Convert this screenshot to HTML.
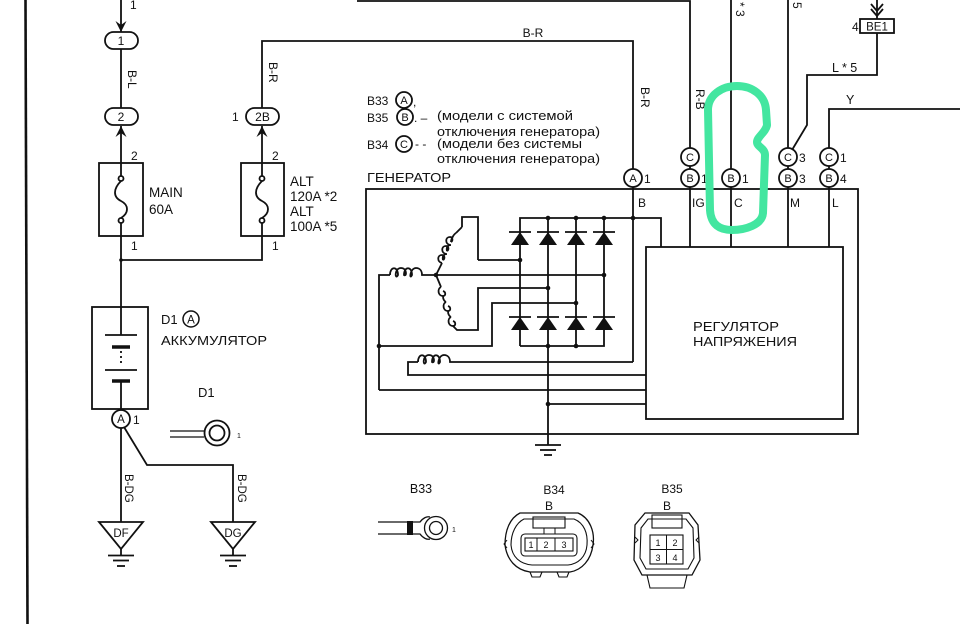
<!DOCTYPE html>
<html><head><meta charset="utf-8">
<style>
html,body{margin:0;padding:0;background:#fff;}
svg{display:block;}
text{font-family:"Liberation Sans",sans-serif;fill:#111;}
</style></head>
<body>
<svg width="960" height="624" viewBox="0 0 960 624" xmlns="http://www.w3.org/2000/svg">
<rect width="960" height="624" fill="#fff"/>
<g stroke="#111" stroke-width="1.8" fill="none" stroke-linecap="butt">
<!-- left border -->
<line x1="25.5" y1="0" x2="27.5" y2="624" stroke-width="2.6"/>

<!-- main column -->
<line x1="121" y1="0" x2="121" y2="32"/>
<rect x="105" y="32" width="33" height="17" rx="8.5"/>
<line x1="121" y1="49" x2="121" y2="108"/>
<rect x="105" y="108" width="33" height="17" rx="8.5"/>
<line x1="121" y1="126" x2="121" y2="163"/>
<rect x="99" y="163" width="44" height="73"/>
<line x1="121" y1="163" x2="121" y2="176"/>
<circle cx="121" cy="178.5" r="2.5"/>
<path d="M121,181 C113,189 113,197 121,201 C129,205 129,213 121,218"/>
<circle cx="121" cy="220.5" r="2.5"/>
<line x1="121" y1="223" x2="121" y2="236"/>
<line x1="121" y1="236" x2="121" y2="307"/>
<polyline points="121,260 262,260 262,236"/>

<!-- ALT column -->
<polyline points="262,108 262,41 633,41 633,169"/>
<rect x="246" y="108" width="33" height="17" rx="8.5"/>
<line x1="262" y1="126" x2="262" y2="163"/>
<rect x="241" y="163" width="43" height="73"/>
<line x1="262" y1="163" x2="262" y2="176"/>
<circle cx="262" cy="178.5" r="2.5"/>
<path d="M262,181 C254,189 254,197 262,201 C270,205 270,213 262,218"/>
<circle cx="262" cy="220.5" r="2.5"/>
<line x1="262" y1="223" x2="262" y2="236"/>

<!-- battery -->
<rect x="92" y="307" width="56" height="102"/>
<line x1="121" y1="307" x2="121" y2="335"/>
<line x1="105" y1="335" x2="137" y2="335"/>
<line x1="112" y1="347" x2="130" y2="347" stroke-width="3.5"/>
<line x1="121" y1="351" x2="121" y2="364" stroke-dasharray="2,3"/>
<line x1="105" y1="370" x2="137" y2="370"/>
<line x1="112" y1="381" x2="130" y2="381" stroke-width="3.5"/>
<line x1="121" y1="381" x2="121" y2="409"/>
<circle cx="121" cy="419" r="9"/>
<line x1="121" y1="428" x2="121" y2="522"/>
<polyline points="124,427 147,465 233,465 233,522"/>
<polygon points="99,522 143,522 121,549"/>
<line x1="121" y1="549" x2="121" y2="555"/>
<line x1="108" y1="555.5" x2="134" y2="555.5"/>
<line x1="113" y1="560.5" x2="129" y2="560.5"/>
<line x1="117" y1="566" x2="125" y2="566"/>
<polygon points="211,522 255,522 233,549"/>
<line x1="233" y1="549" x2="233" y2="555"/>
<line x1="220" y1="555.5" x2="246" y2="555.5"/>
<line x1="225" y1="560.5" x2="241" y2="560.5"/>
<line x1="229" y1="566" x2="237" y2="566"/>

<!-- D1 terminal -->
<line x1="170" y1="431" x2="204" y2="431" stroke-width="1.3"/>
<line x1="170" y1="437" x2="204" y2="437" stroke-width="1.3"/>
<circle cx="217" cy="433" r="12.5" fill="#fff"/>
<circle cx="217" cy="433" r="7.5"/>

<!-- legend circles -->
<circle cx="404" cy="100" r="8"/>
<circle cx="405" cy="117" r="8"/>
<circle cx="404" cy="144" r="8"/>

<!-- generator box -->
<rect x="366" y="189" width="492" height="245"/>
<circle cx="633" cy="178" r="9" fill="#fff"/>
<line x1="633" y1="187" x2="633" y2="362"/>
<polyline points="520,346 520,218 661,218 661,247"/>
<line x1="548" y1="218" x2="548" y2="445"/>
<line x1="576" y1="218" x2="576" y2="346"/>
<polyline points="604,218 604,346 520,346"/>
<!-- stator -->
<path d="M478,260 L520,260"/>
<polyline points="462,227 462,217 478,217 478,260"/>
<polyline points="462,330 478,330 478,288 548,288"/>
<line x1="436" y1="275" x2="604" y2="275"/>
<!-- upper coil -->
<path d="M436,275 L442,263"/>
<path d="M442,263 c-5,-1 -5,-8 0,-8 c3,0 3,4 1,5 M443,260 c-1,-4 1,-6 4,-6 M446,254 c-5,-1 -5,-8 0,-8 c3,0 3,4 1,5 M447,251 c-1,-4 1,-6 4,-6 M450,245 c-5,-1 -5,-8 0,-8 c3,0 3,4 1,5 M451,242 c0,-3 3,-8 5,-9"/>
<path d="M456,233 L462,227"/>
<!-- lower coil -->
<path d="M436,275 L441,287"/>
<path d="M441,287 c-4,2 -3,9 2,9 c3,0 3,-4 0,-5 M443,296 c0,3 1,5 3,6 M446,302 c-4,2 -3,9 2,9 c3,0 3,-4 0,-5 M448,311 c0,3 1,5 3,6 M451,317 c-4,2 -3,9 2,9 c3,0 3,-4 0,-5"/>
<path d="M453,326 L457,330 L462,330"/>
<polyline points="379,390 379,275 390,275"/>
<path d="M390,275 c0,-9 8,-9 8,0 c-3,6 -4,-7 3,-7 c6,0 6,9 3,7 c0,-9 8,-9 8,0 c-3,6 -2,-7 4,-7 c4,0 6,3 6,7 L436,275"/>
<polyline points="379,346 492,346 492,303 576,303"/>
<line x1="379" y1="390" x2="646" y2="390"/>
<!-- rotor -->
<polyline points="646,375 408,375 408,362 418,362"/>
<path d="M418,362 c0,-9 8,-9 8,0 c-3,6 -4,-7 3,-7 c6,0 6,9 3,7 c0,-9 8,-9 8,0 c-3,6 -2,-7 4,-7 c4,0 6,3 6,7 L633,362"/>
<line x1="548" y1="404" x2="646" y2="404"/>
<!-- ground -->
<line x1="535" y1="445" x2="561" y2="445"/>
<line x1="540" y1="450" x2="556" y2="450"/>
<line x1="544" y1="455" x2="552" y2="455"/>
<!-- regulator -->
<rect x="646" y="247" width="197" height="172"/>

<!-- top wires -->
<polyline points="357,1 690,1 690,148"/>
<circle cx="690" cy="157" r="9" fill="#fff"/>
<line x1="690" y1="166" x2="690" y2="169"/>
<circle cx="690" cy="178" r="9" fill="#fff"/>
<line x1="690" y1="187" x2="690" y2="247"/>
<line x1="731" y1="0" x2="731" y2="169"/>
<circle cx="731" cy="178" r="9" fill="#fff"/>
<line x1="731" y1="187" x2="731" y2="247"/>
<line x1="788" y1="0" x2="788" y2="148"/>
<circle cx="788" cy="157" r="9" fill="#fff"/>
<line x1="788" y1="166" x2="788" y2="169"/>
<circle cx="788" cy="178" r="9" fill="#fff"/>
<line x1="788" y1="187" x2="788" y2="247"/>
<polyline points="877,0 877,19"/>
<polyline points="871,4 877,11 883,4"/>
<polyline points="871,9 877,16 883,9"/>
<rect x="860" y="19" width="34" height="14"/>
<polyline points="877,33 877,75 807,75 807,125 792,150"/>
<polyline points="960,109 829,109 829,148"/>
<circle cx="829" cy="157" r="9" fill="#fff"/>
<line x1="829" y1="166" x2="829" y2="169"/>
<circle cx="829" cy="178" r="9" fill="#fff"/>
<line x1="829" y1="187" x2="829" y2="247"/>

<!-- B33 terminal -->
<line x1="378" y1="522" x2="407" y2="522" stroke-width="1.3"/>
<line x1="378" y1="534" x2="407" y2="534" stroke-width="1.3"/>
<path d="M413,522 L420,522 C423,518 427,516 430,517 M413,534 L420,534 C423,538 427,540 430,539" stroke-width="1.3"/>
<circle cx="436" cy="528" r="11.5" stroke-width="1.3"/>
<circle cx="436" cy="528" r="6.5" stroke-width="1.3"/>

<!-- B34 -->
<path d="M520,513 L578,513 C590,518 595,532 593,545 C591,560 582,570 570,572 L530,572 C516,570 507,560 505,545 C505,530 510,518 520,513 Z" stroke-width="1.3"/>
<path d="M524,519 L574,519 C584,523 588,533 587,545 C586,557 578,564 568,565 L532,565 C520,564 512,557 511,545 C511,533 516,523 524,519 Z" stroke-width="1.1"/>
<rect x="533" y="517" width="32" height="11" stroke-width="1.1"/>
<line x1="544" y1="528" x2="544" y2="534" stroke-width="1"/>
<line x1="555" y1="528" x2="555" y2="534" stroke-width="1"/>
<rect x="521" y="534" width="56" height="22" rx="4" stroke-width="1.1"/>
<rect x="525" y="538" width="48" height="13" stroke-width="1.1"/>
<line x1="537" y1="538" x2="537" y2="551" stroke-width="1"/>
<line x1="555" y1="538" x2="555" y2="551" stroke-width="1"/>
<path d="M507,540 l-3,4 3,4 M591,540 l3,4 -3,4" stroke-width="1"/>
<path d="M530,572 l2,5 h8 l2,-5 M557,572 l2,5 h8 l2,-5" stroke-width="1.1"/>

<!-- B35 -->
<path d="M645,513 L689,513 L698,525 L700,560 L692,575 L642,575 L634,560 L635,525 Z" stroke-width="1.3"/>
<path d="M648,519 L686,519 L693,528 L694,558 L688,569 L646,569 L640,558 L641,528 Z" stroke-width="1.1"/>
<rect x="652" y="515" width="30" height="13" stroke-width="1.1"/>
<rect x="650" y="535" width="33" height="29" stroke-width="1.1"/>
<line x1="666.5" y1="535" x2="666.5" y2="564" stroke-width="1"/>
<line x1="650" y1="549.5" x2="683" y2="549.5" stroke-width="1"/>
<path d="M647,575 L650,588 L684,588 L687,575" stroke-width="1.1"/>
<path d="M635,537 l3,3 -3,3 M699,537 l-3,3 3,3" stroke-width="1"/>
</g>

<!-- fills: arrows, dots, band, diodes -->
<g fill="#111" stroke="none">
<polygon points="115.5,21 121,32 126.5,21 121,25"/>
<polygon points="115.5,137 121,126 126.5,137 121,133"/>
<polygon points="256.5,137 262,126 267.5,137 262,133"/>
<circle cx="121" cy="260" r="1.8"/>
<circle cx="548" cy="218" r="2.3"/>
<circle cx="576" cy="218" r="2.3"/>
<circle cx="604" cy="218" r="2.3"/>
<circle cx="633" cy="218" r="2.3"/>
<circle cx="520" cy="260" r="2.3"/>
<circle cx="604" cy="275" r="2.3"/>
<circle cx="436" cy="275" r="2.3"/>
<circle cx="548" cy="288" r="2.3"/>
<circle cx="576" cy="303" r="2.3"/>
<circle cx="379" cy="346" r="2.3"/>
<circle cx="548" cy="346" r="2.3"/>
<circle cx="576" cy="346" r="2.3"/>
<circle cx="548" cy="404" r="2.3"/>
<rect x="407" y="521" width="6" height="14"/>
<polygon points="511,245 529,245 520,232"/>
<polygon points="539,245 557,245 548,232"/>
<polygon points="567,245 585,245 576,232"/>
<polygon points="595,245 613,245 604,232"/>
<polygon points="511,330 529,330 520,317"/>
<polygon points="539,330 557,330 548,317"/>
<polygon points="567,330 585,330 576,317"/>
<polygon points="595,330 613,330 604,317"/>
</g>
<g stroke="#111" stroke-width="1.8">
<line x1="509" y1="232" x2="531" y2="232"/><line x1="537" y1="232" x2="559" y2="232"/>
<line x1="565" y1="232" x2="587" y2="232"/><line x1="593" y1="232" x2="615" y2="232"/>
<line x1="509" y1="317" x2="531" y2="317"/><line x1="537" y1="317" x2="559" y2="317"/>
<line x1="565" y1="317" x2="587" y2="317"/><line x1="593" y1="317" x2="615" y2="317"/>
</g>

<!-- text -->
<g font-size="12">
<text x="130" y="9">1</text>
<text x="121" y="45" text-anchor="middle">1</text>
<text x="121" y="121" text-anchor="middle">2</text>
<text x="262.5" y="121" text-anchor="middle">2B</text>
<text x="232" y="121">1</text>
<text x="128" y="70" transform="rotate(90 128 70)">B-L</text>
<text x="269" y="62" transform="rotate(90 269 62)">B-R</text>
<text x="131" y="160">2</text>
<text x="272" y="160">2</text>
<text x="131" y="250">1</text>
<text x="272" y="250">1</text>
<text x="149" y="197" font-size="13.5">MAIN</text>
<text x="149" y="214" font-size="13.5">60A</text>
<text x="290" y="186" font-size="13.5">ALT</text>
<text x="290" y="201" font-size="13.5">120A *2</text>
<text x="290" y="216" font-size="13.5">ALT</text>
<text x="290" y="231" font-size="13.5">100A *5</text>
<text x="161" y="324" font-size="13">D1</text>
<circle cx="191" cy="319" r="8" fill="none" stroke="#111" stroke-width="1.5"/>
<text x="191" y="323.5" text-anchor="middle" font-size="11.5">A</text>
<text x="161" y="345" font-size="13" textLength="106" lengthAdjust="spacingAndGlyphs">АККУМУЛЯТОР</text>
<text x="198" y="397" font-size="13">D1</text>
<text x="237" y="438" font-size="7">1</text>
<text x="121" y="423" text-anchor="middle" font-size="11.5">A</text>
<text x="133" y="424">1</text>
<text x="125" y="474" transform="rotate(90 125 474)" font-size="11.5">B-DG</text>
<text x="238" y="474" transform="rotate(90 238 474)" font-size="11.5">B-DG</text>
<text x="121" y="537" text-anchor="middle" font-size="11.5">DF</text>
<text x="233" y="537" text-anchor="middle" font-size="11.5">DG</text>

<text x="533" y="37" text-anchor="middle">B-R</text>
<text x="367" y="105" font-size="12">B33</text>
<text x="404" y="104" text-anchor="middle" font-size="11">A</text>
<text x="413" y="106">,</text>
<text x="367" y="122" font-size="12">B35</text>
<text x="405" y="121" text-anchor="middle" font-size="11">B</text>
<text x="414" y="122">. –</text>
<text x="367" y="149" font-size="12">B34</text>
<text x="404" y="148" text-anchor="middle" font-size="11">C</text>
<text x="415" y="148">- -</text>
<text x="437" y="120" font-size="12.5" textLength="136" lengthAdjust="spacingAndGlyphs">(модели с системой</text>
<text x="437" y="136" font-size="12.5" textLength="163" lengthAdjust="spacingAndGlyphs">отключения генератора)</text>
<text x="437" y="148" font-size="12.5" textLength="145" lengthAdjust="spacingAndGlyphs">(модели без системы</text>
<text x="437" y="163" font-size="12.5" textLength="163" lengthAdjust="spacingAndGlyphs">отключения генератора)</text>
<text x="367" y="182" font-size="12.5" textLength="84" lengthAdjust="spacingAndGlyphs">ГЕНЕРАТОР</text>

<text x="641" y="87" transform="rotate(90 641 87)">B-R</text>
<text x="696" y="89" transform="rotate(90 696 89)">R-B</text>
<text x="736" y="2" transform="rotate(90 736 2)">* 3</text>
<text x="793" y="2" transform="rotate(90 793 2)">5</text>
<text x="852" y="31">4</text>
<text x="877" y="30.5" text-anchor="middle" font-size="11.5">BE1</text>
<text x="832" y="72" font-size="12.5">L * 5</text>
<text x="846" y="104" font-size="12.5">Y</text>

<text x="633" y="182" text-anchor="middle" font-size="11">A</text>
<text x="644" y="183">1</text>
<text x="690" y="161" text-anchor="middle" font-size="11">C</text>
<text x="690" y="182" text-anchor="middle" font-size="11">B</text>
<text x="701" y="183">1</text>
<text x="731" y="182" text-anchor="middle" font-size="11">B</text>
<text x="742" y="183">1</text>
<text x="788" y="161" text-anchor="middle" font-size="11">C</text>
<text x="799" y="162">3</text>
<text x="788" y="182" text-anchor="middle" font-size="11">B</text>
<text x="799" y="183">3</text>
<text x="829" y="161" text-anchor="middle" font-size="11">C</text>
<text x="840" y="162">1</text>
<text x="829" y="182" text-anchor="middle" font-size="11">B</text>
<text x="840" y="183">4</text>
<text x="638" y="207">B</text>
<text x="692" y="207">IG</text>
<text x="734" y="207">C</text>
<text x="790" y="207">M</text>
<text x="832" y="207">L</text>
<text x="693" y="331" font-size="13" textLength="86" lengthAdjust="spacingAndGlyphs">РЕГУЛЯТОР</text>
<text x="693" y="346" font-size="13" textLength="104" lengthAdjust="spacingAndGlyphs">НАПРЯЖЕНИЯ</text>

<text x="421" y="493" text-anchor="middle" font-size="12.5">B33</text>
<text x="452" y="532" font-size="7">1</text>
<text x="554" y="494" text-anchor="middle" font-size="12">B34</text>
<text x="549" y="510" text-anchor="middle" font-size="12">B</text>
<text x="672" y="493" text-anchor="middle" font-size="12">B35</text>
<text x="667" y="510" text-anchor="middle" font-size="12">B</text>
<text x="531" y="548" text-anchor="middle" font-size="9">1</text>
<text x="546" y="548" text-anchor="middle" font-size="9">2</text>
<text x="564" y="548" text-anchor="middle" font-size="9">3</text>
<text x="658" y="546" text-anchor="middle" font-size="9">1</text>
<text x="675" y="546" text-anchor="middle" font-size="9">2</text>
<text x="658" y="561" text-anchor="middle" font-size="9">3</text>
<text x="675" y="561" text-anchor="middle" font-size="9">4</text>
</g>

<!-- green highlight -->
<path d="M737,86 C722,86 708,95 708,110 L710,210 C711,225 720,230 732,230 C745,230 762,225 763,213 L765,155 C765,148 757,147 757,142 C757,137 766,132 767,125 L766,110 C765,95 752,86 737,86 Z" fill="none" stroke="#43e6a0" stroke-width="8" stroke-linejoin="round"/>
</svg>
</body></html>
